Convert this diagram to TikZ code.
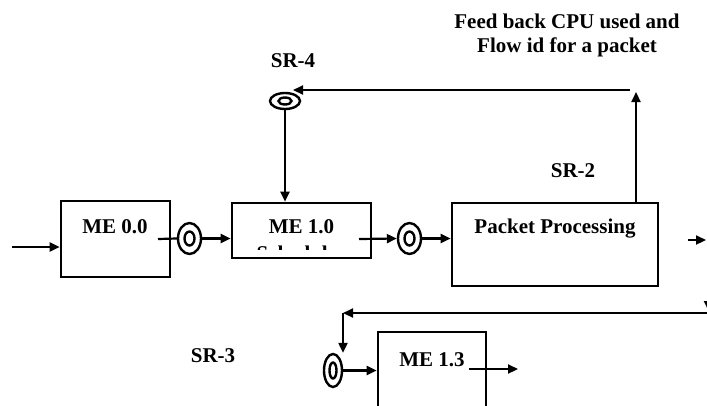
\documentclass[tikz,border=0pt]{standalone}
\usepackage{fontspec}
\setmainfont{Liberation Serif}
\usetikzlibrary{arrows.meta, positioning, shapes.geometric}

\begin{document}
\begin{tikzpicture}[x=1pt, y=-1pt, font=\bfseries\fontsize{21}{24}\selectfont,
  s/.style={rectangle, draw, line width=2.6pt, inner sep=0pt},
  r/.style={ellipse, draw, line width=2.4pt, inner sep=0pt},
  t/.style={inner sep=0pt, anchor=base},
  a/.style={-{Triangle[length=10pt, width=9pt]}, line width=2.2pt}]
\useasboundingbox (0,0) rectangle (707,405);
% boxes
\node[s, minimum width=109pt, minimum height=76pt] (me00) at (115.5,239) {};
\node[s, minimum width=139pt, minimum height=55pt] (me10) at (301.5,230.5) {};
\node[s, minimum width=206pt, minimum height=83pt] (pp) at (555,244.5) {};
\node[s, minimum width=108pt, minimum height=88pt] (me13) at (432,376) {};
\node[t] (me00t) at (115,233) {ME 0.0};
\node[t] (me10t) at (301.5,233) {ME 1.0};
\begin{scope}
  \clip (232,203) rectangle (371,249.5);
  \node[t] (me10s) at (301.5,260) {Scheduler};
\end{scope}
\node[t] (ppt) at (555,233) {Packet Processing};
\node[t] (me13t) at (432,366) {ME 1.3};
% rings
\node[r, minimum width=23pt, minimum height=31pt] (q1) at (189.5,238.5) {};
\node[r, minimum width=10pt, minimum height=14pt] (q1i) at (q1) {};
\node[r, minimum width=23pt, minimum height=31pt] (q2) at (409.5,238.5) {};
\node[r, minimum width=10pt, minimum height=14pt] (q2i) at (q2) {};
\node[r, minimum width=30pt, minimum height=16pt] (sr4) at (285,101) {};
\node[r, minimum width=13pt, minimum height=7pt] (sr4i) at (sr4) {};
\node[r, minimum width=18pt, minimum height=33pt] (sr3) at (333,370.5) {};
\node[r, minimum width=7pt, minimum height=16pt] (sr3i) at (sr3) {};
% labels
\node[t] (sr4t) at (293,67) {SR-4};
\node[t] (sr2t) at (573,177) {SR-2};
\node[t] (sr3t) at (213,362) {SR-3};
\node[t] (fbt1) at (567,28) {Feed back CPU used and};
\node[t] (fbt2) at (567,52) {Flow id for a packet};
% ends
\coordinate (in) at (12,247);
\coordinate (o1) at (158,239);
\coordinate (o2) at (359,239);
\coordinate (fb) at (636,92);
\coordinate (fbl) at (630,90);
\coordinate (po) at (688,240);
\coordinate (pr) at (706,240);
\coordinate (rd1) at (708.5,290);
\coordinate (rd2) at (708.5,311);
\coordinate (rb) at (712,313);
\coordinate (cr) at (343,313);
\coordinate (o3) at (469,369);
\coordinate (e3) at (518,369);
% arrows
\draw[a] (in) -- (me00.west |- in);
\draw[line width=2.2pt] (o1) -- (q1.west);
\draw[a] (q1.east) -- (me10.west |- q1.east);
\draw[a] (o2) -- (q2.west);
\draw[a] (q2.east) -- (pp.west |- q2.east);
\draw[a] (fb |- pp.north) -- (fb);
\draw[a] (fbl) -- (sr4.45 |- fbl);
\draw[a] (sr4.south) -- (sr4.south |- me10.north);
\draw[a] (po) -- (pr);
\draw[a] (rd1) -- (rd2);
\draw[a] (rb) -- (cr);
\draw[a] (cr) -- (cr |- sr3.north);
\draw[a] (sr3.east) -- (me13.west |- sr3.east);
\draw[a] (o3) -- (e3);
\end{tikzpicture}
\end{document}
